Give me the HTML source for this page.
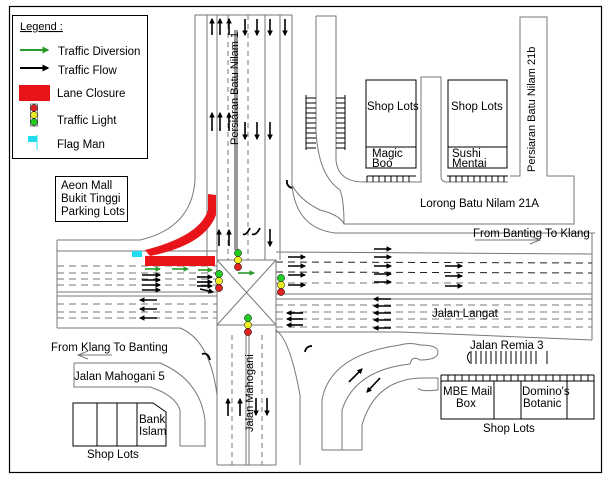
<!DOCTYPE html>
<html><head><style>
body{margin:0;background:#fff;}
svg{display:block;}
text{font-family:"Liberation Sans",sans-serif;fill:#000;}
</style></head><body>
<svg width="608" height="480" viewBox="0 0 608 480" xmlns="http://www.w3.org/2000/svg">
<defs>
<marker id="ah" viewBox="0 0 10 10" refX="8" refY="5" markerWidth="3.5" markerHeight="3.5" orient="auto"><path d="M0,0L10,5L0,10z" fill="#000"/></marker>
<marker id="ag" viewBox="0 0 10 10" refX="8" refY="5" markerWidth="3.5" markerHeight="3.5" orient="auto"><path d="M0,0L10,5L0,10z" fill="#2a9a2a"/></marker>
</defs>
<rect x="0" y="0" width="608" height="480" fill="#fff"/>
<rect x="9.5" y="6.5" width="592" height="466" fill="none" stroke="#000" stroke-width="1.2"/>

<g fill="none" stroke="#777" stroke-width="1">
<path d="M195,15 V180 Q192,228 140,240 H57"/>
<path d="M292,15 V185 Q296,228 335,233 H595"/>
<line x1="207" y1="15" x2="207" y2="260"/>
<line x1="217" y1="15" x2="217" y2="260"/>
<line x1="228" y1="15" x2="228" y2="260" stroke-dasharray="5,4"/>
<line x1="235" y1="30" x2="235" y2="250" stroke="#333"/>
<line x1="237" y1="30" x2="237" y2="250" stroke="#333"/>
<line x1="248" y1="15" x2="248" y2="260" stroke-dasharray="5,4"/>
<line x1="265" y1="15" x2="265" y2="260"/>
<line x1="280" y1="15" x2="280" y2="260"/>
<line x1="195" y1="15" x2="292" y2="15"/>
<line x1="57" y1="240" x2="57" y2="328"/>
<line x1="57" y1="251" x2="217" y2="251"/>
<line x1="57" y1="292" x2="217" y2="292"/>
<line x1="57" y1="296" x2="217" y2="296"/>
<g stroke-dasharray="7,5">
<line x1="57" y1="266" x2="217" y2="266"/><line x1="57" y1="273" x2="217" y2="273"/>
<line x1="57" y1="279" x2="217" y2="279"/><line x1="57" y1="285" x2="217" y2="285"/>
<line x1="57" y1="304" x2="217" y2="304"/><line x1="57" y1="312" x2="217" y2="312"/>
<line x1="57" y1="318" x2="217" y2="318"/></g>
<path d="M57,328 H180 Q210,340 217,395"/>
<line x1="276" y1="252" x2="592" y2="254"/>
<line x1="276" y1="294" x2="592" y2="294"/>
<line x1="276" y1="299" x2="592" y2="299"/>
<path d="M592,233 V340"/>
<g stroke-dasharray="7,5">
<line x1="276" y1="262" x2="592" y2="263" stroke="#222"/><line x1="276" y1="272" x2="592" y2="273" stroke="#222"/>
<line x1="276" y1="283" x2="592" y2="283"/>
<line x1="276" y1="305" x2="592" y2="305"/><line x1="276" y1="312" x2="592" y2="312"/>
<line x1="276" y1="319" x2="592" y2="319"/><line x1="276" y1="327" x2="592" y2="327"/></g>
<path d="M276,332 H400 L592,340"/>
<path d="M276,330 Q290,340 300,395 V465"/>
<rect x="217" y="260" width="59" height="65"/>
<line x1="217" y1="260" x2="276" y2="325"/><line x1="276" y1="260" x2="217" y2="325"/>
<line x1="217" y1="325" x2="217" y2="465"/>
<line x1="276" y1="325" x2="276" y2="465"/>
<line x1="217" y1="465" x2="276" y2="465"/>
<line x1="246" y1="335" x2="246" y2="465"/><line x1="249" y1="335" x2="249" y2="465"/>
<line x1="232" y1="335" x2="232" y2="465" stroke-dasharray="5,4"/>
<line x1="262" y1="335" x2="262" y2="465" stroke-dasharray="5,4"/>
<path d="M74,363 H160 Q200,380 205,420 V447"/>
<path d="M74,363 V387 H150 Q175,395 180,410 V446 H205"/>
<path d="M292,185 Q300,200 320,210 Q340,215 344,224 H574 V176 H547 V17 H520 V176 H510"/>
<path d="M316,16 H336 V160 Q338,182 364,182 H421 V77 H441 V176 Q441,182 447,182 H508"/>
<path d="M316,16 V130 Q318,175 340,190 Q344,200 344,224"/>
<path d="M322,450 V400 Q330,355 400,345 Q410,342 420,345"/>
<path d="M342,450 V410 Q355,370 410,364"/>
<path d="M362,450 V425 Q375,380 420,378"/>
<line x1="322" y1="450" x2="362" y2="450"/>
<path d="M420,345 Q438,345 438,352 Q438,360 420,360 Q412,355 410,364"/>
<path d="M420,378 H438 V390 Q420,392 418,388"/>
</g>
<g stroke="#000" stroke-width="1">
<path d="M306,95 V150 M345,95 V150"/>
<path d="M306,98H316M306,103H316M306,108H316M306,113H316M306,118H316M306,123H316M306,128H316M306,133H316M306,138H316M306,143H316M306,148H316"/>
<path d="M336,98H345M336,103H345M336,108H345M336,113H345M336,118H345M336,123H345M336,128H345M336,133H345M336,138H345M336,143H345M336,148H345"/>
<path d="M367,176H416M367,176V182M373,176V182M379,176V182M385,176V182M391,176V182M397,176V182M403,176V182M409,176V182"/>
<path d="M447,176H508M450,176V182M456,176V182M462,176V182M468,176V182M474,176V182M480,176V182M486,176V182M492,176V182M498,176V182M504,176V182"/>
<path d="M441,375H594M441,375V381M448,375V381M455,375V381M462,375V381M469,375V381M476,375V381M483,375V381M490,375V381M497,375V381M504,375V381M511,375V381M518,375V381M525,375V381M532,375V381M539,375V381M546,375V381M553,375V381M560,375V381M567,375V381M574,375V381M581,375V381M588,375V381M594,375V381"/>
<path d="M471,351V364M476,351V364M481,351V364M486,351V364M491,351V364M496,351V364M501,351V364M506,351V364M511,351V364M516,351V364M521,351V364M526,351V364M531,351V364M536,351V364M547,351V364"/>
<path d="M470,352 Q465,357 470,363" fill="none"/>
</g>
<g fill="#fff" stroke="#000" stroke-width="1">
<rect x="366" y="80" width="50" height="88"/><line x1="366" y1="147" x2="416" y2="147"/>
<rect x="448" y="80" width="59" height="88"/><line x1="448" y1="147" x2="507" y2="147"/>
<rect x="441" y="381" width="153" height="38"/>
<line x1="494" y1="381" x2="494" y2="419"/><line x1="521" y1="381" x2="521" y2="419"/><line x1="567" y1="381" x2="567" y2="419"/>
<path d="M73,403 H153 L166,412 V446 H73 Z"/>
<line x1="97" y1="403" x2="97" y2="446"/><line x1="117" y1="403" x2="117" y2="446"/><line x1="137" y1="403" x2="137" y2="446"/>
<rect x="12.5" y="15.5" width="135" height="143"/>
<rect x="55.5" y="176.5" width="72" height="45"/>
</g>
<path d="M208,194 L216,195 L216,215 Q205,245 150,256 L145,250 Q200,236 208,210 Z" fill="#e8141a"/>
<rect x="145" y="256" width="70" height="10" fill="#e8141a"/>
<rect x="132" y="251" width="10" height="6" fill="#22ddee"/>
<g stroke="#000" stroke-width="0.5">
<g transform="translate(238,253)"><circle cx="0" cy="0" r="3.6" fill="#2c2"/><circle cx="0" cy="7" r="3.6" fill="#ee2"/><circle cx="0" cy="14" r="3.6" fill="#d22"/></g>
<g transform="translate(219,274)"><circle cx="0" cy="0" r="3.6" fill="#2c2"/><circle cx="0" cy="7" r="3.6" fill="#ee2"/><circle cx="0" cy="14" r="3.6" fill="#d22"/></g>
<g transform="translate(281,278)"><circle cx="0" cy="0" r="3.6" fill="#2c2"/><circle cx="0" cy="7" r="3.6" fill="#ee2"/><circle cx="0" cy="14" r="3.6" fill="#d22"/></g>
<g transform="translate(248,318)"><circle cx="0" cy="0" r="3.6" fill="#2c2"/><circle cx="0" cy="7" r="3.6" fill="#ee2"/><circle cx="0" cy="14" r="3.6" fill="#d22"/></g>
<g transform="translate(34,108)"><rect x="-3.5" y="-4" width="7" height="22" fill="#fff"/><circle cx="0" cy="0" r="3.4" fill="#d22"/><circle cx="0" cy="7" r="3.4" fill="#ee2"/><circle cx="0" cy="14" r="3.4" fill="#2c2"/></g>
</g>
<rect x="19" y="85" width="31" height="16" fill="#e8141a"/>
<line x1="20" y1="50" x2="48" y2="50" stroke="#2a9a2a" stroke-width="2" marker-end="url(#ag)"/>
<line x1="20" y1="68" x2="48" y2="68" stroke="#000" stroke-width="2" marker-end="url(#ah)"/>
<rect x="28" y="136" width="9" height="6" fill="#22ddee"/><line x1="37" y1="135" x2="37" y2="150" stroke="#22ddee"/>
<g font-size="11.5">
<text x="20" y="30" font-size="11" text-decoration="underline">Legend :</text>
<text x="58" y="55">Traffic Diversion</text>
<text x="58" y="74">Traffic Flow</text>
<text x="57" y="97">Lane Closure</text>
<text x="57" y="124">Traffic Light</text>
<text x="57" y="148">Flag Man</text>
<text x="61" y="189">Aeon Mall</text><text x="61" y="202">Bukit Tinggi</text><text x="61" y="215">Parking Lots</text>
<text x="367" y="110">Shop Lots</text><text x="451" y="110">Shop Lots</text>
<text x="372" y="157">Magic</text><text x="372" y="167">Boo</text>
<text x="452" y="157">Sushi</text><text x="452" y="167">Mentai</text>
<text x="420" y="207">Lorong Batu Nilam 21A</text>
<text x="473" y="237">From Banting To Klang</text>
<text x="51" y="351">From Klang To Banting</text>
<text x="74" y="380">Jalan Mahogani 5</text>
<text x="139" y="423">Bank</text><text x="139" y="435">Islam</text>
<text x="87" y="458">Shop Lots</text>
<text x="432" y="317">Jalan Langat</text>
<text x="470" y="349">Jalan Remia 3</text>
<text x="443" y="395">MBE Mail</text><text x="456" y="407">Box</text>
<text x="522" y="395">Domino's</text><text x="523" y="407">Botanic</text>
<text x="483" y="432">Shop Lots</text>
<text transform="translate(238,145) rotate(-90)" font-size="11">Persiaran Batu Nilam 1</text>
<text transform="translate(535,172) rotate(-90)" font-size="11">Persiaran Batu Nilam 21b</text>
<text transform="translate(253,432) rotate(-90)" font-size="11">Jalan Mahogani</text>
</g>
<line x1="475" y1="240" x2="540" y2="240" stroke="#777"/><path d="M530,236 L540,240 L530,244" fill="none" stroke="#777"/>
<line x1="78" y1="355" x2="112" y2="355" stroke="#777"/><path d="M88,351 L78,355 L88,359" fill="none" stroke="#777"/>
<g stroke="#000" stroke-width="1.6" marker-end="url(#ah)">
<line x1="212" y1="35" x2="212" y2="19"/><line x1="220" y1="35" x2="220" y2="19"/><line x1="229" y1="35" x2="229" y2="19"/>
<line x1="245" y1="19" x2="245" y2="35"/><line x1="257" y1="19" x2="257" y2="35"/><line x1="270" y1="19" x2="270" y2="35"/><line x1="285" y1="19" x2="285" y2="35"/>
<line x1="212" y1="131" x2="212" y2="113"/><line x1="220" y1="131" x2="220" y2="113"/><line x1="229" y1="131" x2="229" y2="113"/>
<line x1="245" y1="122" x2="245" y2="139"/><line x1="257" y1="122" x2="257" y2="139"/><line x1="270" y1="122" x2="270" y2="139"/>
<line x1="219" y1="246" x2="219" y2="230"/><line x1="229" y1="246" x2="229" y2="230"/><line x1="270" y1="229" x2="270" y2="246"/>
<line x1="142" y1="275" x2="160" y2="275"/><line x1="142" y1="280" x2="160" y2="280"/><line x1="142" y1="285" x2="160" y2="285"/><line x1="142" y1="290" x2="160" y2="290"/>
<line x1="197" y1="277" x2="212" y2="277"/><line x1="197" y1="282" x2="212" y2="282"/><line x1="197" y1="286" x2="212" y2="286"/><line x1="200" y1="289" x2="213" y2="292"/>
<line x1="157" y1="300" x2="140" y2="300"/><line x1="157" y1="309" x2="140" y2="309"/><line x1="157" y1="318" x2="140" y2="318"/>
<line x1="288" y1="257" x2="305" y2="257"/><line x1="288" y1="266" x2="305" y2="266"/><line x1="288" y1="275" x2="305" y2="275"/><line x1="288" y1="285" x2="305" y2="285"/>
<line x1="374" y1="249" x2="391" y2="249"/><line x1="374" y1="257" x2="391" y2="257"/><line x1="374" y1="266" x2="391" y2="266"/><line x1="374" y1="274" x2="391" y2="274"/><line x1="374" y1="282" x2="391" y2="282"/>
<line x1="445" y1="266" x2="462" y2="266"/><line x1="445" y1="276" x2="462" y2="276"/><line x1="445" y1="286" x2="462" y2="286"/>
<line x1="391" y1="299" x2="374" y2="299"/><line x1="391" y1="306" x2="374" y2="306"/><line x1="391" y1="313" x2="374" y2="313"/><line x1="391" y1="320" x2="374" y2="320"/><line x1="391" y1="328" x2="374" y2="328"/>
<line x1="303" y1="313" x2="287" y2="313"/><line x1="303" y1="319" x2="287" y2="319"/><line x1="303" y1="325" x2="287" y2="325"/>
<line x1="228" y1="416" x2="228" y2="399"/><line x1="240" y1="416" x2="240" y2="399"/><line x1="256" y1="398" x2="256" y2="415"/><line x1="267" y1="398" x2="267" y2="415"/>
<line x1="349" y1="382" x2="362" y2="369"/><line x1="380" y1="378" x2="367" y2="392"/>
</g>
<g stroke="#2a9a2a" stroke-width="1.6" marker-end="url(#ag)">
<line x1="145" y1="269" x2="160" y2="269"/><line x1="172" y1="269" x2="188" y2="269"/><line x1="198" y1="270" x2="212" y2="270"/><line x1="238" y1="273" x2="254" y2="273"/>
</g>
<g fill="none" stroke="#000" stroke-width="1.8">
<path d="M287,180 Q286,186 292,188"/><path d="M210,360 Q208,352 202,354"/><path d="M312,346 Q306,346 305,352"/>
<path d="M250,228 Q246,236 243,234"/><path d="M260,228 Q256,236 252,234"/>
</g>
</svg>
</body></html>
